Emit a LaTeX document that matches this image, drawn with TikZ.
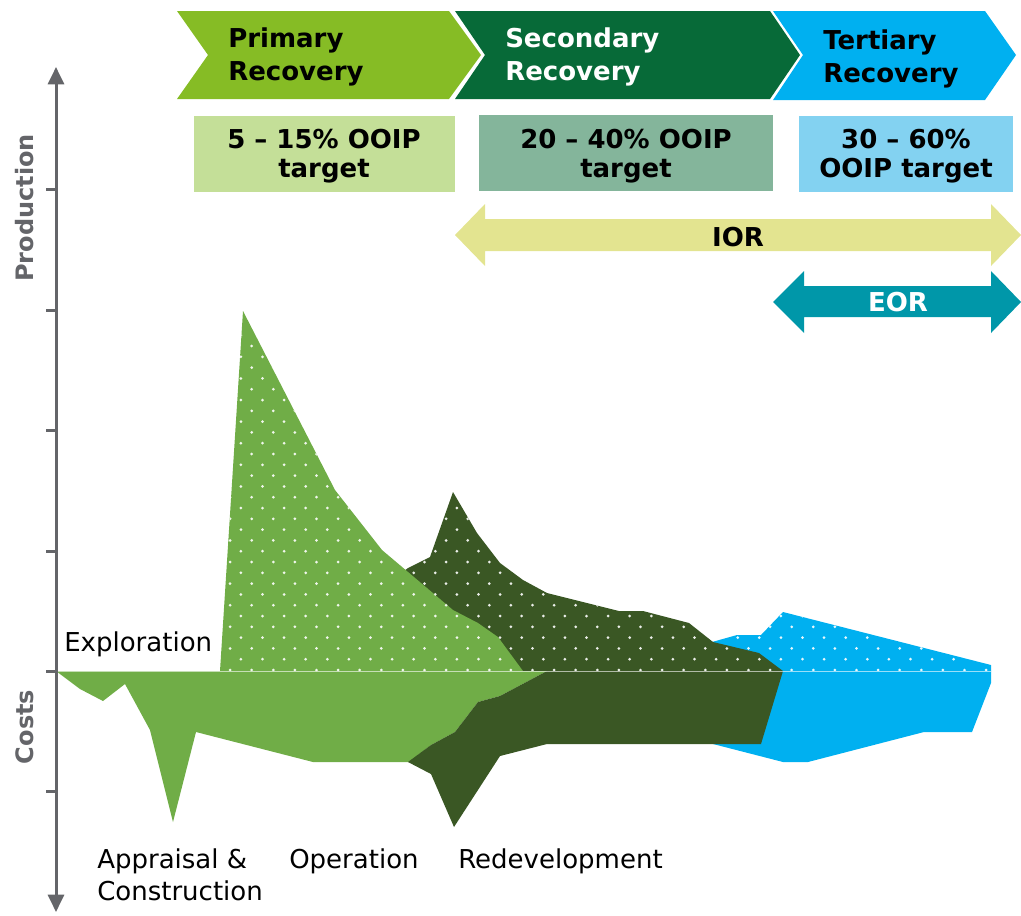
\documentclass[tikz,border=0pt]{standalone}
\usepackage{fontspec}
\setmainfont{DejaVu Sans}
\usetikzlibrary{arrows.meta}
\definecolor{cPrim}{HTML}{86BC25}
\definecolor{cSec}{HTML}{076A38}
\definecolor{cTer}{HTML}{00B0F0}
\definecolor{cBoxA}{HTML}{C4DF98}
\definecolor{cBoxB}{HTML}{84B59B}
\definecolor{cBoxC}{HTML}{83D2F1}
\definecolor{cIOR}{HTML}{E3E490}
\definecolor{cEOR}{HTML}{0097A9}
\definecolor{cLG}{HTML}{70AD47}
\definecolor{cDG}{HTML}{3A5724}
\definecolor{cBL}{HTML}{00B0F0}
\definecolor{cAx}{HTML}{646569}
\begin{document}
\begin{tikzpicture}[x=0.75pt,y=-0.75pt,
  hdr/.style={font=\bfseries\fontsize{19.5}{24.75}\selectfont, align=left, inner sep=0pt, anchor=north west},
  tgt/.style={font=\bfseries\fontsize{19.5}{21.75}\selectfont, align=center, inner sep=0pt, anchor=north},
  arrlbl/.style={font=\bfseries\fontsize{19.5}{24}\selectfont, inner sep=0pt, anchor=center},
  lbl/.style={font=\fontsize{19.5}{24}\selectfont, inner sep=0pt},
  axlbl/.style={font=\bfseries\fontsize{18}{20}\selectfont, text=cAx, rotate=90, inner sep=0pt, anchor=center},
  dotfill/.style={fill=white, fill opacity=0.9},
  axline/.style={draw=cAx, line width=2.25pt},
]
\useasboundingbox (0,0) rectangle (1021,915);

% ---------- chevrons ----------
\fill[cPrim] (177,11) -- (449,11) -- (481,55) -- (449,99) -- (177,99) -- (208,55) -- cycle;
\fill[cSec] (455,11) -- (770,11) -- (800,55) -- (770,99) -- (455,99) -- (485,55) -- cycle;
\fill[cTer] (773,11) -- (985,11) -- (1016,55) -- (985,100) -- (773,100) -- (803,55) -- cycle;
\node[hdr] (hPrim) at (228,27) {Primary\\Recovery};
\node[hdr, text=white] (hSec) at (505,27) {Secondary\\Recovery};
\node[hdr] (hTer) at (823,29) {Tertiary\\Recovery};

% ---------- target boxes ----------
\fill[cBoxA] (194,116) rectangle (455,192);
\fill[cBoxB] (479,115) rectangle (773,191);
\fill[cBoxC] (799,116) rectangle (1013,192);
\node[tgt] (tA) at (324,128.5) {5 – 15\% OOIP\\target};
\node[tgt] (tB) at (626,128.5) {20 – 40\% OOIP\\target};
\node[tgt] (tC) at (906,128.5) {30 – 60\%\\OOIP target};

% ---------- IOR / EOR double arrows ----------
\fill[cIOR] (455,235) -- (485,204) -- (485,219) -- (991,219) -- (991,204) -- (1021,235)
  -- (991,266) -- (991,251) -- (485,251) -- (485,266) -- cycle;
\node[arrlbl] (ior) at (738,237) {IOR};
\fill[cEOR] (773,302) -- (804,271) -- (804,286) -- (991,286) -- (991,271) -- (1021,302)
  -- (991,333) -- (991,317) -- (804,317) -- (804,333) -- cycle;
\node[arrlbl, text=white] (eor) at (898,302) {EOR};

% ---------- blue (tertiary) ----------
\fill[cBL] (700,671) -- (712,642) -- (737,635) -- (761,635) -- (783,612) -- (991,665) -- (991,671) -- cycle;
\begin{scope}
  \clip (700,671) -- (712,642) -- (737,635) -- (761,635) -- (783,612) -- (991,665) -- (991,671) -- cycle;
  \foreach \k in {0,...,6}{\foreach \j in {22,...,37}{
    \fill[dotfill] ({208.5+21.6*\j+10.8*mod(\k,2)},{670-10.8*\k}) circle (1.5);}}
\end{scope}
\fill[cBL] (705,671) -- (705,743) -- (713,744) -- (783,762) -- (808,762) -- (924,732) -- (972,732) -- (991,683) -- (991,671) -- cycle;

% ---------- dark green (secondary) ----------
\fill[cDG] (390,671) -- (395,578) -- (408,568) -- (430,557) -- (453,492) -- (477,533) -- (500,563) -- (523,580) -- (547,593) -- (619,611) -- (643,611) -- (689,623) -- (713,642) -- (759,653) -- (783,671) -- cycle;
\begin{scope}
  \clip (390,671) -- (395,578) -- (408,568) -- (430,557) -- (453,492) -- (477,533) -- (500,563) -- (523,580) -- (547,593) -- (619,611) -- (643,611) -- (689,623) -- (713,642) -- (759,653) -- (783,671) -- cycle;
  \foreach \k in {0,...,17}{\foreach \j in {7,...,27}{
    \fill[dotfill] ({208.5+21.6*\j+10.8*mod(\k,2)},{670-10.8*\k}) circle (1.5);}}
\end{scope}

% ---------- light green costs ----------
\fill[cLG] (56,671) -- (80,689) -- (103,701) -- (125,684) -- (150,730) -- (173,822) -- (196,732) -- (313,762) -- (409,762)
  -- (431,745) -- (455,732) -- (478,702) -- (500,696) -- (547,671) -- cycle;

% ---------- dark green costs ----------
\fill[cDG] (408,762) -- (431,745) -- (455,732) -- (478,702) -- (500,696) -- (547,671) -- (783,671) -- (761,744)
  -- (547,744) -- (500,756) -- (454,827) -- (431,774) -- cycle;

% ---------- light green production ----------
\fill[cLG] (220,671) -- (243,311) -- (335,490) -- (382,550) -- (453,610) -- (478,623) -- (498,637) -- (523,671) -- cycle;
\begin{scope}
  \clip (220,671) -- (243,311) -- (335,490) -- (382,550) -- (453,610) -- (478,623) -- (498,637) -- (523,671) -- cycle;
  \foreach \k in {0,...,34}{\foreach \j in {0,...,15}{
    \fill[dotfill] ({208.5+21.6*\j+10.8*mod(\k,2)},{670-10.8*\k}) circle (1.5);}}
\end{scope}

% baseline
\draw[white, opacity=0.6, line width=0.75pt] (56,671) -- (991,671);

% ---------- axis ----------
\coordinate (axT) at (56,67);
\coordinate (axB) at (56,912);
\draw[axline, {Triangle[width=12pt,length=13pt]}-{Triangle[width=12pt,length=13pt]}, cAx] (axB) -- (axT);
\foreach \ty in {189,310,430,551,671,791}{\draw[axline] (46,\ty) -- (56,\ty);}
\node[axlbl] (lProd) at (25,208) {Production};
\node[axlbl] (lCost) at (25,727) {Costs};

% ---------- phase labels ----------
\node[lbl, anchor=base west] (lExp) at (64,651) {Exploration};
\node[lbl, anchor=north west, align=left] (lApp) at (97,848) {Appraisal \&\\Construction};
\node[lbl, anchor=base west] (lOp) at (289,868) {Operation};
\node[lbl, anchor=base west] (lRe) at (458,868) {Redevelopment};
\end{tikzpicture}
\end{document}
